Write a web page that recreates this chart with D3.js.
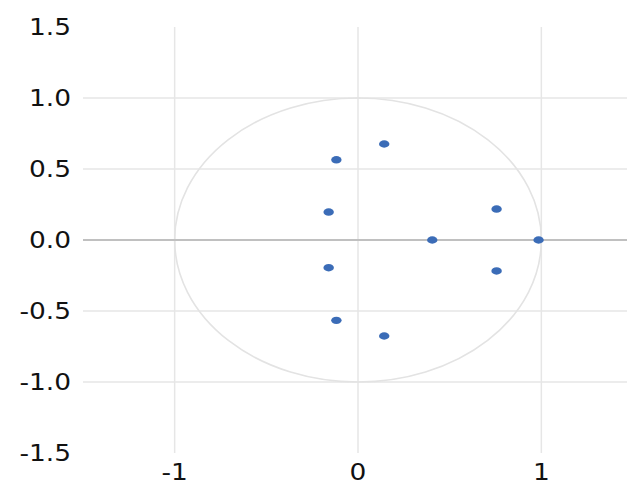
<!DOCTYPE html>
<html>
<head>
<meta charset="utf-8">
<script src="https://cdn.jsdelivr.net/npm/d3@7"></script>
<style>
  body { margin: 0; background: #fff; }
  text { font-family: "DejaVu Sans", sans-serif; }
</style>
</head>
<body>
<div id="chart"></div>
<script>
// pole positions
const re = [0.143, -0.118, -0.160, 0.405, 0.985, 0.756, 0.756, -0.160, -0.118, 0.143];
const im = [0.676, 0.565, 0.197, 0.000, 0.000, 0.218, -0.218, -0.195, -0.566, -0.676];

const xTicks = [-1, 0, 1];
const yTicks = [1.5, 1.0, 0.5, 0.0, -0.5, -1.0, -1.5];
const yGrid = [1.0, 0.5, -0.5, -1.0];

const width = 627, height = 486;

const x = d3.scaleLinear().domain([-1.5, 1.5]).range([83, 633]);
const y = d3.scaleLinear().domain([-1.5, 1.5]).range([453, 27]);

// plain hyphen instead of the unicode minus
const fmtY = d => d.toFixed(1);
const fmtX = d => String(d);

const svg = d3.select("#chart")
  .append("svg")
    .attr("width", width)
    .attr("height", height);

// horizontal gridlines
svg.append("g")
  .selectAll("line")
  .data(yGrid)
  .join("line")
    .attr("x1", x(-1.5))
    .attr("x2", width)
    .attr("y1", d => y(d))
    .attr("y2", d => y(d))
    .attr("stroke", "#e6e6e6")
    .attr("stroke-width", 1.5);

// vertical gridlines
svg.append("g")
  .selectAll("line")
  .data(xTicks)
  .join("line")
    .attr("x1", d => x(d))
    .attr("x2", d => x(d))
    .attr("y1", y(1.5))
    .attr("y2", y(-1.5))
    .attr("stroke", "#e6e6e6")
    .attr("stroke-width", 1.5);

// unit circle
svg.append("ellipse")
  .attr("cx", x(0))
  .attr("cy", y(0))
  .attr("rx", x(1) - x(0))
  .attr("ry", y(0) - y(1))
  .attr("fill", "none")
  .attr("stroke", "#e3e3e3")
  .attr("stroke-width", 1.6);

// zero line
svg.append("line")
  .attr("x1", x(-1.5))
  .attr("x2", width)
  .attr("y1", y(0))
  .attr("y2", y(0))
  .attr("stroke", "#c0c0c0")
  .attr("stroke-width", 2);

// y labels
svg.append("g")
  .selectAll("text")
  .data(yTicks)
  .join("text")
    .attr("transform", d => `translate(71,${y(d)}) scale(1.15,1)`)
    .attr("text-anchor", "end")
    .attr("dy", "0.35em")
    .attr("font-size", 23)
    .attr("fill", "#111")
    .text(fmtY);

// x labels
svg.append("g")
  .selectAll("text")
  .data(xTicks)
  .join("text")
    .attr("transform", d => `translate(${x(d)},472) scale(1.15,1)`)
    .attr("text-anchor", "middle")
    .attr("dy", "0.35em")
    .attr("font-size", 23)
    .attr("fill", "#111")
    .text(fmtX);

// points
svg.append("g")
  .selectAll("ellipse")
  .data(re.map((r, i) => ({ r: r, i: im[i] })))
  .join("ellipse")
    .attr("cx", d => x(d.r))
    .attr("cy", d => y(d.i))
    .attr("rx", 5.2)
    .attr("ry", 3.7)
    .attr("fill", "#3b6cb7");
</script>
</body>
</html>
